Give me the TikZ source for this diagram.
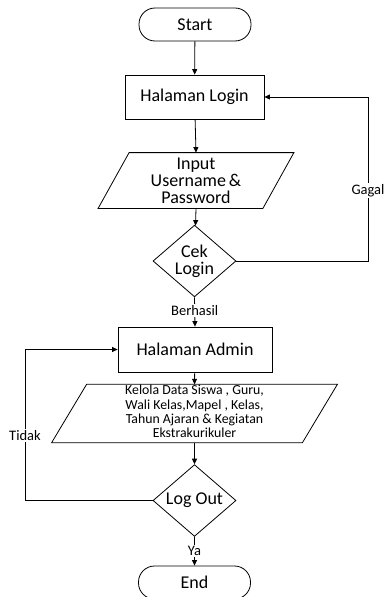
\documentclass[tikz,border=0pt]{standalone}
\usepackage{fontspec}
\setmainfont{Carlito}
\usetikzlibrary{shapes.geometric,arrows.meta}
\begin{document}
\begin{tikzpicture}[x=1pt,y=-1pt,
  every path/.style={line width=0.8pt},
  arr/.style={-{Triangle[length=5.5pt,width=5pt]}},
  big/.style={font=\fontsize{18}{17}\selectfont},
  term/.style={draw, rounded corners=16pt, minimum width=112pt, minimum height=33pt, inner sep=0pt, big},
  proc/.style={draw, inner sep=0pt, big},
  dec/.style={diamond, draw, inner sep=0pt, minimum width=83pt, big, align=center},
  io/.style={inner sep=0pt, align=center},
  lbl/.style={fill=white, inner sep=1pt, font=\fontsize{14.5}{15}\selectfont}]
\useasboundingbox (0,0) rectangle (385,597);

\node[term] (start) at (195,24.5) {Start};
\node[proc, minimum width=139pt, minimum height=44pt] (login) at (194.5,97) {Halaman Login};
\node[io, big, minimum width=164pt, minimum height=55pt] (input) at (196,180.5) {Input\\Username\,\&\\Password};
\draw ([xshift=15.5pt]input.north west) -- ([xshift=15.5pt]input.north east)
      -- ([xshift=-15.5pt]input.south east) -- ([xshift=-15.5pt]input.south west) -- cycle;
\node[dec, minimum height=66pt] (cek) at (194.5,261) {Cek\\Login};
\node[proc, minimum width=154pt, minimum height=45pt] (admin) at (195,349.5) {Halaman Admin};
\node[io, font=\fontsize{13.8}{14.4}\selectfont, minimum width=250pt, minimum height=55pt] (kelola) at (194.5,413.5)
  {\raisebox{-3pt}{\begin{tabular}{@{}c@{}}Kelola Data Siswa , Guru,\\Wali Kelas,Mapel , Kelas,\\Tahun Ajaran \& Kegiatan\\Ekstrakurikuler\end{tabular}}};
\draw ([xshift=17.5pt]kelola.north west) -- ([xshift=17.5pt]kelola.north east)
      -- ([xshift=-17.5pt]kelola.south east) -- ([xshift=-17.5pt]kelola.south west) -- cycle;
\node[dec, minimum height=63pt] (logout) at (194.5,500.5) {Log Out};
\node[term] (end) at (194.5,582.5) {End};

\coordinate (g1) at (368,261);
\coordinate (g2) at (368,97);
\coordinate (t1) at (25,500.5);
\coordinate (t2) at (25,349.5);

\draw[arr] (start) -- (login);
\draw[arr] (login) -- (input.north);
\draw[arr] (input.south) -- (cek);
\draw[arr] (cek.east) -- (g1) -- node[lbl, pos=0.43] {Gagal} (g2) -- (login.east);
\draw[arr] (cek.south) -- node[lbl, pos=0.45] {Berhasil} (admin.north);
\draw[arr] (admin) -- (kelola.north);
\draw[arr] (kelola.south) -- (logout.north);
\draw[arr] (logout.west) -- (t1) -- node[lbl, pos=0.43] {Tidak} (t2) -- (admin.west);
\draw[arr] (logout.south) -- node[lbl, pos=0.5] {Ya} (end.north);
\end{tikzpicture}
\end{document}
